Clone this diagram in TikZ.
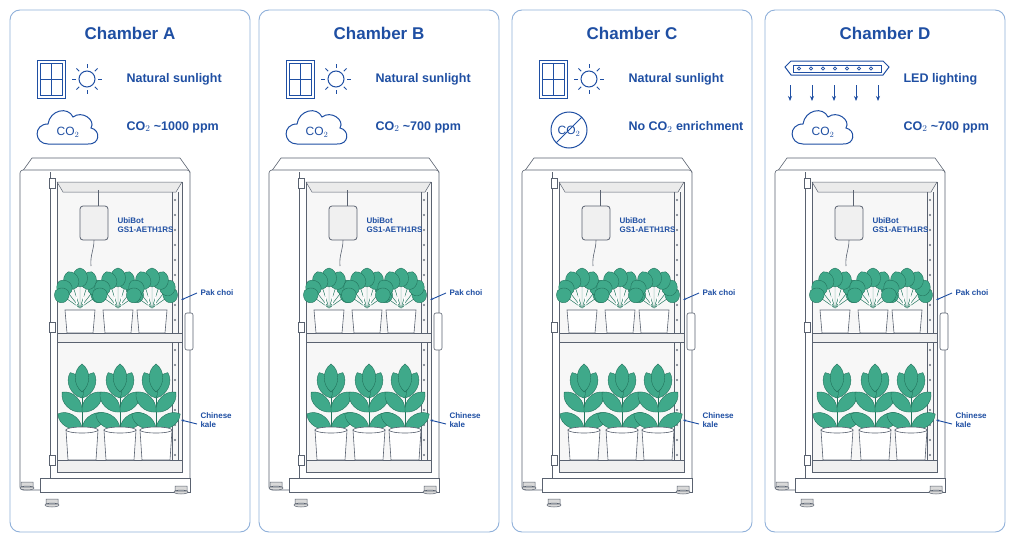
\documentclass[tikz,border=0pt]{standalone}
\usepackage{fontspec}
\setmainfont{Liberation Sans}
\usetikzlibrary{positioning,arrows.meta,calc}
\definecolor{ink}{HTML}{1F4FA3}
\definecolor{frame}{HTML}{8FB0DA}
\definecolor{leaf}{HTML}{3FA98A}
\definecolor{leafdark}{HTML}{23735C}
\definecolor{steel}{HTML}{5A6270}
\tikzset{
  panel/.style={draw=frame,rounded corners=10pt,line width=0.9pt},
  title/.style={text=ink,font=\bfseries\fontsize{17}{19}\selectfont},
  info/.style={text=ink,font=\bfseries\fontsize{12.5}{14}\selectfont,anchor=west},
  tag/.style={text=ink,font=\bfseries\fontsize{8}{9.5}\selectfont,anchor=west,align=left},
  icon/.style={draw=ink,line width=1pt},
  body/.style={draw=steel,line width=0.6pt,fill=white},
  pot/.style={draw=steel,line width=0.6pt,fill=white},
  leafy/.style={draw=leafdark,line width=0.4pt,fill=leaf},
  pointer/.style={ink,line width=0.9pt,-{Stealth[length=3pt]}}
}
\newcommand{\infox}{123}
% window and sun
\newcommand{\sunicon}{
  \draw[icon] (37,60) rectangle (65,98) (40,63) rectangle (62,95);
  \draw[icon] (51,63) -- (51,95) (40,79) -- (62,79);
  \draw[icon] (87,79) circle (8);
  \foreach \a in {0,45,...,315}
    \draw[icon] ($(87,79)+(\a:11)$) -- ($(87,79)+(\a:15)$);
}
% cloud with co2
\newcommand{\cloudicon}[1]{
  \draw[icon,fill=white] (48,144) .. controls (34,144) and (33,124) .. (48,124)
    .. controls (50,110) and (68,106) .. (73,117)
    .. controls (82,110) and (96,120) .. (91,128)
    .. controls (101,130) and (100,145) .. (88,144) -- cycle;
  \node[text=ink,font=\fontsize{12}{13}\selectfont] (#1) at (68,132) {CO$_2$};
}
\newcommand{\pakchoi}[1]{
  \begin{scope}[shift={(#1,0)}]
    \foreach \a/\r in {-55/12,-38/16,-18/20,0/22,18/20,38/16,55/12}
      \draw[leafy,rotate around={\a:(0,308)}] (0,308) -- (0,300-\r*0.6)
        .. controls (-10,300-\r*0.6) and (-10,292-\r) .. (0,290-\r)
        .. controls (10,292-\r) and (10,300-\r*0.6) .. (0,300-\r*0.6);
    \draw[white,line width=0.9pt] (-4,309) -- (-3,292) (4,309) -- (3,292) (0,309) -- (0,288);
    \draw[pot] (-15,310) -- (-13,333) -- (13,333) -- (15,310) -- cycle;
  \end{scope}
}
\newcommand{\kale}[1]{
  \begin{scope}[shift={(#1,0)}]
    \draw[leafdark,line width=1pt] (0,432) -- (0,385);
    \foreach \a/\y in {-60/428,60/428,-45/412,45/412,-25/398,25/398,0/392}
      \draw[leafy,rotate around={\a:(0,\y)}] (0,\y) .. controls (-9,\y-7) and (-9,\y-22) .. (0,\y-28)
        .. controls (9,\y-22) and (9,\y-7) .. (0,\y);
    \draw[pot] (-16,430) -- (-14,460) -- (14,460) -- (16,430) -- cycle;
    \draw[pot] (0,430) ellipse (16 and 3);
  \end{scope}
}
% one chamber, drawn at its own offset
\newcommand{\chamber}[6]{
  \begin{scope}[xshift=#1]
    \draw[panel] (0,0) rectangle (240,522);
    \node[title] (#6title) at (120,23) {#2};
    \begin{scope}[shift={(-10,-10)}]
      #3
      \node[info] (#6light) at (\infox,79) {#4};
      \node[info] (#6gas) at (\infox,127) {#5};
      % cabinet
      \draw[body] (22,172) -- (32,158) -- (180,158) -- (190,172) -- cycle;
      \draw[body,rounded corners=3pt] (20,170) rectangle (190,490);
      \draw[steel,line width=0.5pt] (50,172) -- (50,490);
      \draw[steel,fill=black!3,line width=0.5pt] (57,182) rectangle (182,472);
      \draw[steel,fill=black!8,line width=0.5pt] (57,182) -- (182,182) -- (176,192) -- (63,192) -- cycle;
      \draw[steel,line width=0.5pt] (172,192) -- (172,462) (178,192) -- (178,462);
      \foreach \y in {200,215,...,455}
        \draw[steel,line width=0.3pt] (175,\y) circle (0.9);
      \draw[steel,fill=black!6,line width=0.5pt] (57,333) rectangle (182,342);
      \draw[steel,fill=black!6,line width=0.5pt] (57,460) rectangle (182,472);
      \draw[body] (40,478) rectangle (190,492);
      \foreach \x/\y in {27/486,52/503,181/490}
        \draw[steel,fill=black!15,line width=0.5pt] (\x-6,\y-4) rectangle (\x+6,\y+1) (\x,\y+2) ellipse (7 and 2);
      \foreach \y in {178,322,455}
        \draw[steel,fill=white,line width=0.5pt] (49,\y) rectangle (55,\y+10);
      \draw[body,rounded corners=2pt] (185,313) rectangle (193,350);
      % sensor
      \draw[steel,line width=1pt] (98,206) -- (98,190);
      \draw[steel,line width=0.6pt] (94,240) .. controls (94,250) and (90,255) .. (91,266);
      \draw[steel,fill=black!6,rounded corners=3pt,line width=0.8pt] (80,206) rectangle (108,240);
      \node[tag] (#6sensor) at (114,225) {UbiBot\\GS1-AETH1RS};
      % plants
      \pakchoi{80}\pakchoi{118}\pakchoi{152}
      \kale{82}\kale{120}\kale{156}
      \node[tag] (#6pak) at (197,293) {Pak choi};
      \node[tag] (#6kale) at (197,420) {Chinese\\kale};
      \coordinate (#6pakend) at (181,300);
      \coordinate (#6kaleend) at (181,420);
      \draw[pointer] (#6pak.west) -- (#6pakend);
      \draw[pointer] (#6kale.west) ++(0,4) -- (#6kaleend);
    \end{scope}
  \end{scope}
}

\begin{document}
\begin{tikzpicture}[x=1pt,y=-1pt]
  \useasboundingbox[fill=white] (0,0) rectangle (1024,546);
  \begin{scope}[shift={(10,10)}]
    \chamber{0}{Chamber A}{\sunicon\cloudicon{cA}}{Natural sunlight}{CO$_2$ \textasciitilde1000 ppm}{A}
    \chamber{249}{Chamber B}{\sunicon\cloudicon{cB}}{Natural sunlight}{CO$_2$ \textasciitilde700 ppm}{B}
    \chamber{502}{Chamber C}{\sunicon
      \draw[icon] (67,130) circle (18);
      \node[text=ink,font=\fontsize{12}{13}\selectfont] (noc) at (67,131) {CO$_2$};
      \draw[icon] ($(67,130)+(135:18)$) -- ($(67,130)+(-45:18)$);}{Natural sunlight}{No CO$_2$ enrichment}{C}
    \renewcommand{\infox}{145}
    \chamber{755}{Chamber D}{
      \draw[icon,fill=white] (30,67) -- (36,61) -- (128,61) -- (134,67) -- (128,75) -- (36,75) -- cycle;
      \draw[icon,line width=0.5pt] (38,65) -- (126,65) -- (126,72) -- (38,72) -- cycle;
      \foreach \x in {44,56,...,122} \draw[icon,line width=0.6pt,fill=white] (\x,68.5) circle (1.6);
      \foreach \x in {35,57,79,101,123}
        \draw[icon,-{Stealth[length=5pt,width=4pt]}] (\x,85) -- (\x,101);
      \cloudicon{cD}}{LED lighting}{CO$_2$ \textasciitilde700 ppm}{D}
  \end{scope}
\end{tikzpicture}
\end{document}
